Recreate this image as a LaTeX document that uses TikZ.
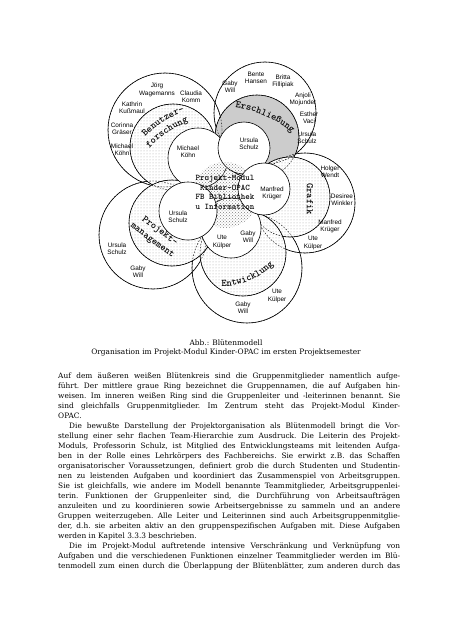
\documentclass[tikz,border=0pt]{standalone}
\usepackage{fontspec}
\setmainfont{DejaVu Serif}
\newfontfamily\namefont{Liberation Sans}
\usetikzlibrary{patterns}
\usetikzlibrary{decorations.text}
\tikzset{member/.style={font=\namefont\fontsize{6.4}{7.3}\selectfont, align=center, inner sep=0pt}}
\tikzset{outerring/.style={draw=black, line width=0.6pt}}
\tikzset{dotring/.style={draw=black, line width=0.6pt, preaction={fill=white}, pattern=dots, pattern color=gray!70}}
\tikzset{greyring/.style={draw=black, line width=0.6pt, fill=gray!40}}
\tikzset{hidden/.style={draw=black, line width=0.4pt, dash pattern=on 1.5pt off 1.5pt}}
\tikzset{leader/.style={draw=black, line width=0.6pt, fill=white}}
\tikzset{groupname/.style={decorate, decoration={text along path, text align=center,
  text={|\ttfamily\bfseries\fontsize{10}{10}\selectfont|#1}}}}

\begin{document}
\begin{tikzpicture}[x=1pt, y=1pt]
  \useasboundingbox (0,0) rectangle (452,-640);

  \draw [outerring] (165,-130) circle (57);
  \draw [outerring] (265,-113) circle (51);
  \draw [outerring] (305,-203) circle (50);
  \draw [outerring] (247,-268) circle (55);
  \draw [outerring] (153,-235) circle (54);

  \path [dotring] (173,-147) circle (43);
  \path [greyring] (257,-137) circle (42);
  \path [dotring] (290,-197) circle (40);
  \path [dotring] (243,-253) circle (43);
  \path [dotring] (172,-223) circle (43);

  \draw [hidden] (165,-130) circle (57);
  \draw [hidden] (265,-113) circle (51);
  \draw [hidden] (305,-203) circle (50);
  \draw [hidden] (247,-268) circle (55);
  \draw [hidden] (153,-235) circle (54);
  \draw [hidden] (173,-147) circle (43);
  \draw [hidden] (257,-137) circle (42);
  \draw [hidden] (290,-197) circle (40);
  \draw [hidden] (243,-253) circle (43);
  \draw [hidden] (172,-223) circle (43);

  \draw [leader] (198,-158) circle (30);
  \draw [leader] (244,-148) circle (26);
  \draw [leader] (231,-228) circle (30);
  \fill [pattern=crosshatch dots, pattern color=gray] (225,-195) circle (33);
  \draw [leader] (264,-189) circle (26);
  \draw [leader] (188,-211) circle (29);

  \coordinate (mid) at (222,-214);
  \path [groupname={Benutzer-}] (mid) ++(140:109) arc [start angle=140, end angle=105, radius=109];
  \path [groupname={forschung}] (mid) ++(142:98) arc [start angle=142, end angle=106, radius=98];
  \path [groupname={Erschließung}] (mid) ++(90:107) arc [start angle=90, end angle=42, radius=107];
  \node [rotate=-90, font=\ttfamily\bfseries\fontsize{10}{10}\selectfont, inner sep=0pt] (grafik) at (310,-199) {Grafik};
  \path [groupname={Entwicklung}] (mid) ++(260:72.5) arc [start angle=260, end angle=325, radius=72.5];
  \node [rotate=-37, font=\ttfamily\bfseries\fontsize{10}{12}\selectfont, align=center, inner sep=0pt] (projekt) at (156,-236) {Projekt-\\management};

  \node [font=\ttfamily\bfseries\fontsize{8.6}{9.5}\selectfont, align=center, inner sep=0pt] (modul) at (225,-192.5) {Projekt-Modul\\Kinder-OPAC\\FB Bibliothek\\u Information};

  \node [member] (b1) at (157,-90) {Jörg\\Wagemanns};
  \node [member] (b2) at (191,-97) {Claudia\\Komm};
  \node [member] (b3) at (132,-108) {Kathrin\\Kußmaul};
  \node [member] (b4) at (122,-129) {Corinna\\Gräser};
  \node [member] (b5) at (122,-150) {Michael\\Köhn};
  \node [member] (bl) at (188,-152) {Michael\\Köhn};

  \node [member] (e1) at (256,-78) {Bente\\Hansen};
  \node [member] (e2) at (283,-81) {Britta\\Fillipiak};
  \node [member] (e3) at (230,-87) {Gaby\\Will};
  \node [member] (e4) at (303,-99) {Anjoli\\Mojunder};
  \node [member] (e5) at (309,-118) {Esther\\Vaci};
  \node [member] (e6) at (307,-138) {Ursula\\Schulz};
  \node [member] (el) at (249,-144) {Ursula\\Schulz};

  \node [member] (g1) at (330,-172) {Holger\\Wendt};
  \node [member] (g2) at (342,-200) {Desiree\\Winkler};
  \node [member] (g3) at (330,-226) {Manfred\\Krüger};
  \node [member] (g4) at (313,-243) {Ute\\Külper};
  \node [member] (gl) at (272,-193) {Manfred\\Krüger};

  \node [member] (w1) at (277,-296) {Ute\\Külper};
  \node [member] (w2) at (243,-308) {Gaby\\Will};
  \node [member] (wl1) at (222,-242) {Ute\\Külper};
  \node [member] (wl2) at (248,-237) {Gaby\\Will};

  \node [member] (p1) at (117,-249) {Ursula\\Schulz};
  \node [member] (p2) at (138,-272) {Gaby\\Will};
  \node [member] (pl) at (178,-217) {Ursula\\Schulz};

  \node [font=\fontsize{7.4}{9}\selectfont, align=center, inner sep=0pt] (caption) at (226,-347.5) {Abb.: Blütenmodell\\Organisation im Projekt-Modul Kinder-OPAC im ersten Projektsemester};

  \node [anchor=north west, inner sep=0pt] (body) at (58,-373) {\parbox{342pt}{\fontsize{7.4}{10}\selectfont
    \frenchspacing \tolerance=10000 \hyphenpenalty=10000 \parindent=11pt
    \noindent Auf dem äußeren weißen Blütenkreis sind die Gruppenmitglieder namentlich aufge-\linebreak
    führt. Der mittlere graue Ring bezeichnet die Gruppennamen, die auf Aufgaben hin-\linebreak
    weisen. Im inneren weißen Ring sind die Gruppenleiter und -leiterinnen benannt. Sie\linebreak
    sind gleichfalls Gruppenmitglieder. Im Zentrum steht das Projekt-Modul Kinder-\linebreak
    OPAC.\par
    Die bewußte Darstellung der Projektorganisation als Blütenmodell bringt die Vor-\linebreak
    stellung einer sehr flachen Team-Hierarchie zum Ausdruck. Die Leiterin des Projekt-\linebreak
    Moduls, Professorin Schulz, ist Mitglied des Entwicklungsteams mit leitenden Aufga-\linebreak
    ben in der Rolle eines Lehrkörpers des Fachbereichs. Sie erwirkt z.B. das Schaffen\linebreak
    organisatorischer Voraussetzungen, definiert grob die durch Studenten und Studentin-\linebreak
    nen zu leistenden Aufgaben und koordiniert das Zusammenspiel von Arbeitsgruppen.\linebreak
    Sie ist gleichfalls, wie andere im Modell benannte Teammitglieder, Arbeitsgruppenlei-\linebreak
    terin. Funktionen der Gruppenleiter sind, die Durchführung von Arbeitsaufträgen\linebreak
    anzuleiten und zu koordinieren sowie Arbeitsergebnisse zu sammeln und an andere\linebreak
    Gruppen weiterzugeben. Alle Leiter und Leiterinnen sind auch Arbeitsgruppenmitglie-\linebreak
    der, d.h. sie arbeiten aktiv an den gruppenspezifischen Aufgaben mit. Diese Aufgaben\linebreak
    werden in Kapitel 3.3.3 beschrieben.\par
    {\parfillskip=0pt Die im Projekt-Modul auftretende intensive Verschränkung und Verknüpfung von\linebreak
    Aufgaben und die verschiedenen Funktionen einzelner Teammitglieder werden im Blü-\linebreak
    tenmodell zum einen durch die Überlappung der Blütenblätter, zum anderen durch das\par}}};
\end{tikzpicture}
\end{document}
